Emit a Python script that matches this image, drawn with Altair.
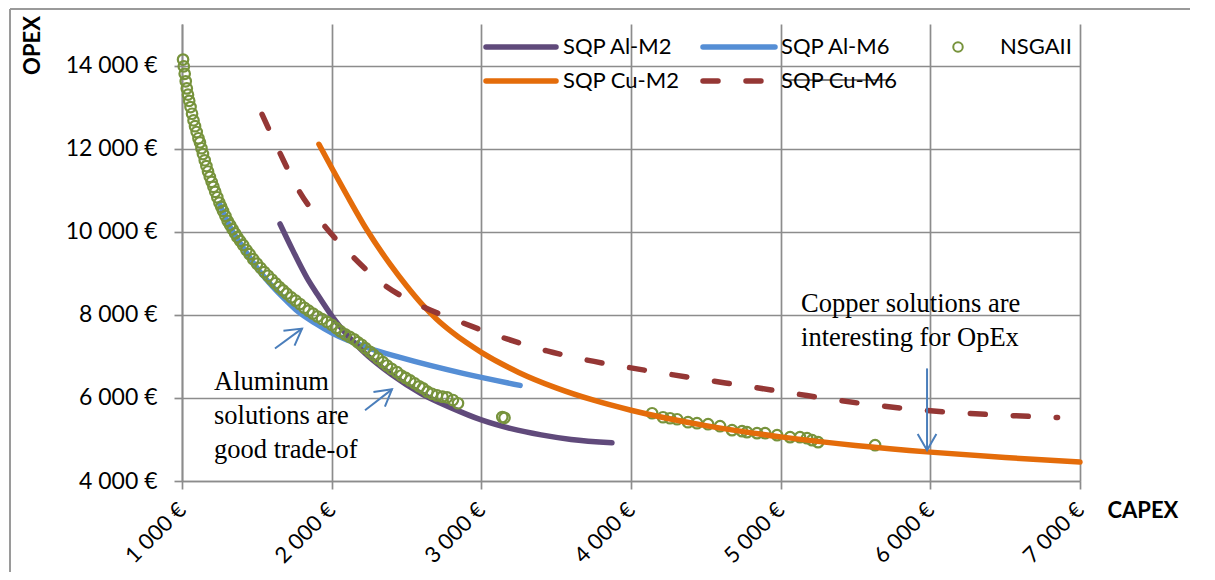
import math
import altair as alt
import pandas as pd

# ---------------- data ----------------
capex_ticks = [1000, 2000, 3000, 4000, 5000, 6000, 7000]
opex_ticks = [4000, 6000, 8000, 10000, 12000, 14000]

nsga_capex = [1007, 1012, 1018, 1025, 1032, 1040, 1048, 1057, 1067, 1077, 1087, 1098,
              1110, 1120, 1130, 1140, 1152, 1163, 1174, 1186, 1198, 1210, 1222, 1236,
              1250, 1262, 1274, 1290, 1305, 1321, 1338, 1355, 1370, 1388, 1408, 1430,
              1452, 1476, 1501, 1525, 1550, 1575, 1600, 1625, 1650, 1675, 1700, 1730,
              1760, 1788, 1818, 1846, 1875, 1905, 1935, 1969, 2000, 2030, 2060, 2090,
              2120, 2150, 2175, 2200, 2225, 2256, 2280, 2310, 2343, 2370, 2400, 2437,
              2465, 2495, 2524, 2555, 2585, 2610, 2640, 2670, 2704, 2740, 2771, 2810,
              2844, 3140, 3155,
              4141, 4214, 4261, 4308, 4381, 4441, 4515, 4595, 4675, 4742, 4775, 4842,
              4896, 4976, 5063, 5129, 5176, 5210, 5250, 5631]
nsga_opex = [14143, 13980, 13800, 13620, 13450, 13300, 13150, 13000, 12840, 12680, 12540, 12400,
             12250, 12150, 12010, 11870, 11720, 11580, 11450, 11320, 11200, 11080, 10960, 10830,
             10700, 10600, 10500, 10380, 10260, 10160, 10060, 9960, 9870, 9780, 9680, 9560,
             9460, 9340, 9230, 9130, 9030, 8940, 8850, 8760, 8670, 8590, 8510, 8420,
             8340, 8260, 8170, 8100, 8030, 7960, 7900, 7830, 7760, 7680, 7600, 7530,
             7470, 7410, 7340, 7280, 7200, 7110, 7040, 6950, 6860, 6780, 6700, 6620,
             6540, 6480, 6420, 6350, 6280, 6230, 6150, 6100, 6060, 6030, 6014, 5950,
             5871, 5540, 5520,
             5631, 5535, 5511, 5487, 5415, 5391, 5367, 5319, 5223, 5199, 5175, 5151,
             5151, 5103, 5055, 5055, 5031, 4983, 4935, 4863]

al_m2_capex = [1655, 1742, 1835, 1902, 2009, 2200, 2400, 2600, 2800, 3000, 3200, 3400, 3600, 3873]
al_m2_opex = [10187, 9539, 8892, 8508, 7933, 7150, 6560, 6100, 5760, 5470, 5260, 5110, 5000, 4920]

al_m6_capex = [1250, 1321, 1408, 1501, 1600, 1700, 1768, 1890, 2009, 2236, 2457, 2878, 3259]
al_m6_opex = [10680, 10120, 9620, 9130, 8700, 8330, 8101, 7800, 7549, 7213, 6974, 6590, 6302]

cu_m2_capex = [1915, 2000, 2100, 2236, 2390, 2500, 2600, 2700, 2800, 2900, 3000, 3250, 3500,
               3750, 4000, 4500, 5000, 5500, 6000, 6500, 7000]
cu_m2_opex = [12105, 11540, 10890, 10040, 9220, 8700, 8270, 7902, 7597, 7331, 7096, 6613, 6241,
              5944, 5703, 5332, 5062, 4857, 4695, 4564, 4456]

cu_m6_capex = [1535, 1655, 1775, 1942, 2136, 2343, 2577, 2838, 3171, 3439, 3706, 3973, 4240,
               4508, 4775, 5082, 5350, 5644, 5931, 6198, 6486, 6766, 6850]
cu_m6_opex = [12825, 11890, 11026, 10187, 9420, 8740, 8250, 7861, 7420, 7130, 6910, 6740, 6580,
              6430, 6280, 6110, 5960, 5820, 5710, 5640, 5585, 5540, 5530]

series_names = ["SQP Al-M2", "SQP Al-M6", "NSGAII", "SQP Cu-M2", "SQP Cu-M6"]

notes_text = ["Aluminum\nsolutions are\ngood trade-of", "Copper solutions are\ninteresting for OpEx"]
notes_capex = [1214, 5136]
notes_opex = [6182, 8077]

# arrows: (tail capex, tail opex, tip capex, tip opex)
arrow_tail_capex = [1621, 2223, 5978]
arrow_tail_opex = [7189, 5703, 6710]
arrow_tip_capex = [1802, 2403, 5978]
arrow_tip_opex = [7669, 6206, 4743]

# ---------------- styling ----------------
W, H = 898, 457
PURPLE = "#604A7B"
BLUE = "#558ED5"
ORANGE = "#E46C0A"
RED = "#953735"
GREEN = "#77933C"
ARROW = "#4A7EBB"
GRID = "#8C8C8C"
FONT = "Lato"

x_scale = alt.Scale(domain=[1000, 7000], nice=False, zero=False)
y_scale = alt.Scale(domain=[4000, 15000], nice=False, zero=False)
label_expr = "replace(format(datum.value, ','), ',', ' ') + ' €'"

x_axis = alt.Axis(values=capex_ticks, labelExpr=label_expr, labelAngle=315,
                  labelAlign="right", labelBaseline="middle", labelFont=FONT,
                  labelFontSize=22, labelColor="black", labelPadding=17,
                  tickSize=8, tickColor=GRID, tickWidth=1.7,
                  domainColor=GRID, domainWidth=1.7,
                  grid=True, gridColor=GRID, gridWidth=1.7,
                  title="CAPEX", titleFont=FONT, titleFontSize=22, titleFontWeight="bold",
                  titleColor="black", titleX=925, titleY=29, titleAlign="left",
                  titleBaseline="middle", titleAngle=0)
y_axis = alt.Axis(values=opex_ticks, labelExpr=label_expr, labelFont=FONT,
                  labelFontSize=23, labelColor="black", labelPadding=17,
                  tickSize=8, tickColor=GRID, tickWidth=1.7,
                  domainColor=GRID, domainWidth=1.7,
                  grid=True, gridColor=GRID, gridWidth=1.7,
                  title="OPEX", titleFont=FONT, titleFontSize=22, titleFontWeight="bold",
                  titleColor="black", titleX=-150, titleY=21, titleAlign="center",
                  titleBaseline="middle", titleAngle=270)


def X(field="capex"):
    return alt.X(f"{field}:Q", scale=x_scale, axis=x_axis)


def Y(field="opex"):
    return alt.Y(f"{field}:Q", scale=y_scale, axis=y_axis)


def line_df(cx, oy):
    return pd.DataFrame({"capex": cx, "opex": oy, "i": list(range(len(cx)))})


def line_layer(cx, oy, color, dash=None):
    kw = dict(color=color, strokeWidth=5.5, interpolate="monotone", strokeCap="round")
    if dash:
        kw["strokeDash"] = dash
    return alt.Chart(line_df(cx, oy)).mark_line(**kw).encode(
        x=X(), y=Y(), order="i:Q")


blue_line = line_layer(al_m6_capex, al_m6_opex, BLUE)
purple_line = line_layer(al_m2_capex, al_m2_opex, PURPLE)
orange_line = line_layer(cu_m2_capex, cu_m2_opex, ORANGE)
red_line = line_layer(cu_m6_capex, cu_m6_opex, RED, dash=[15, 28])

points = alt.Chart(pd.DataFrame({"capex": nsga_capex, "opex": nsga_opex})).mark_point(
    shape="circle", filled=False, color=GREEN, size=110, strokeWidth=2.2, opacity=1
).encode(x=X(), y=Y())

# annotations
notes = alt.Chart(pd.DataFrame({"capex": notes_capex, "opex": notes_opex, "t": notes_text})).mark_text(
    font="Liberation Serif", fontSize=26.5, align="left", baseline="alphabetic",
    lineBreak="\n", lineHeight=34, color="black"
).encode(x=X(), y=Y(), text="t:N")

# arrows: shafts + open heads
px_x = W / 6000.0
px_y = H / 11000.0
angles = []
for tx, ty, hx, hy in zip(arrow_tail_capex, arrow_tail_opex, arrow_tip_capex, arrow_tip_opex):
    dx = (hx - tx) * px_x
    dy = -(hy - ty) * px_y
    angles.append(math.degrees(math.atan2(dx, -dy)) % 360)
arrow_df = pd.DataFrame({"capex": arrow_tail_capex, "opex": arrow_tail_opex,
                         "capex2": arrow_tip_capex, "opex2": arrow_tip_opex, "ang": angles})
shafts = alt.Chart(arrow_df).mark_rule(color=ARROW, strokeWidth=2).encode(
    x=X(), y=Y(), x2="capex2:Q", y2="opex2:Q")
heads = alt.Chart(arrow_df).mark_point(
    shape="M -0.5 0.866 L 0 0 L 0.5 0.866", filled=False, color=ARROW, strokeWidth=2,
    size=1400, opacity=1, strokeJoin="miter"
).encode(x=alt.X("capex2:Q", scale=x_scale, axis=x_axis),
         y=alt.Y("opex2:Q", scale=y_scale, axis=y_axis),
         angle=alt.Angle("ang:Q", scale=None))

# manual legend (pixel positions inside the plot area)
legend_layers = []
leg_rows = [23, 57]
leg_items = [
    (series_names[0], PURPLE, None, 304, 374, 381, leg_rows[0]),
    (series_names[1], BLUE, None, 521, 593, 599, leg_rows[0]),
    (series_names[3], ORANGE, None, 304, 374, 381, leg_rows[1]),
    (series_names[4], RED, [15, 28], 521, 593, 599, leg_rows[1]),
]
dummy = pd.DataFrame({"a": [0]})
for name, col, dash, x1, x2, tx, yy in leg_items:
    kw = dict(color=col, strokeWidth=5.5, strokeCap="round")
    if dash:
        kw["strokeDash"] = dash
    legend_layers.append(alt.Chart(dummy).mark_rule(**kw).encode(
        x=alt.value(x1), x2=alt.value(x2), y=alt.value(yy)))
    legend_layers.append(alt.Chart(dummy).mark_text(
        font=FONT, fontSize=22, align="left", baseline="middle", color="black", text=name
    ).encode(x=alt.value(tx), y=alt.value(yy)))
legend_layers.append(alt.Chart(dummy).mark_point(
    shape="circle", filled=False, color=GREEN, size=90, strokeWidth=2, opacity=1
).encode(x=alt.value(776), y=alt.value(leg_rows[0])))
legend_layers.append(alt.Chart(dummy).mark_text(
    font=FONT, fontSize=22, align="left", baseline="middle", color="black", text=series_names[2]
).encode(x=alt.value(818), y=alt.value(leg_rows[0])))
# strike-through seen on the "SQP Cu-M6" legend entry
legend_layers.append(alt.Chart(dummy).mark_rule(color="black", strokeWidth=1.2).encode(
    x=alt.value(601), x2=alt.value(706), y=alt.value(leg_rows[1] - 1)))

# outer chart-area border (top and left edges visible)
border = [
    alt.Chart(dummy).mark_rule(color="#9A9A9A", strokeWidth=2).encode(
        x=alt.value(-172), x2=alt.value(1100), y=alt.value(-15)),
    alt.Chart(dummy).mark_rule(color="#9A9A9A", strokeWidth=2).encode(
        x=alt.value(-172), y=alt.value(-15), y2=alt.value(H + 120)),
]

chart = alt.layer(
    blue_line, purple_line, points, orange_line, red_line, notes, shafts, heads,
    *legend_layers, *border
).properties(
    width=W, height=H,
    autosize=alt.AutoSizeParams(type="none"),
    padding={"left": 174, "top": 16, "right": 110, "bottom": 91},
    background="white",
).configure_view(stroke=None)

chart.save("out.html", embed_options={"renderer": "svg", "actions": False})
